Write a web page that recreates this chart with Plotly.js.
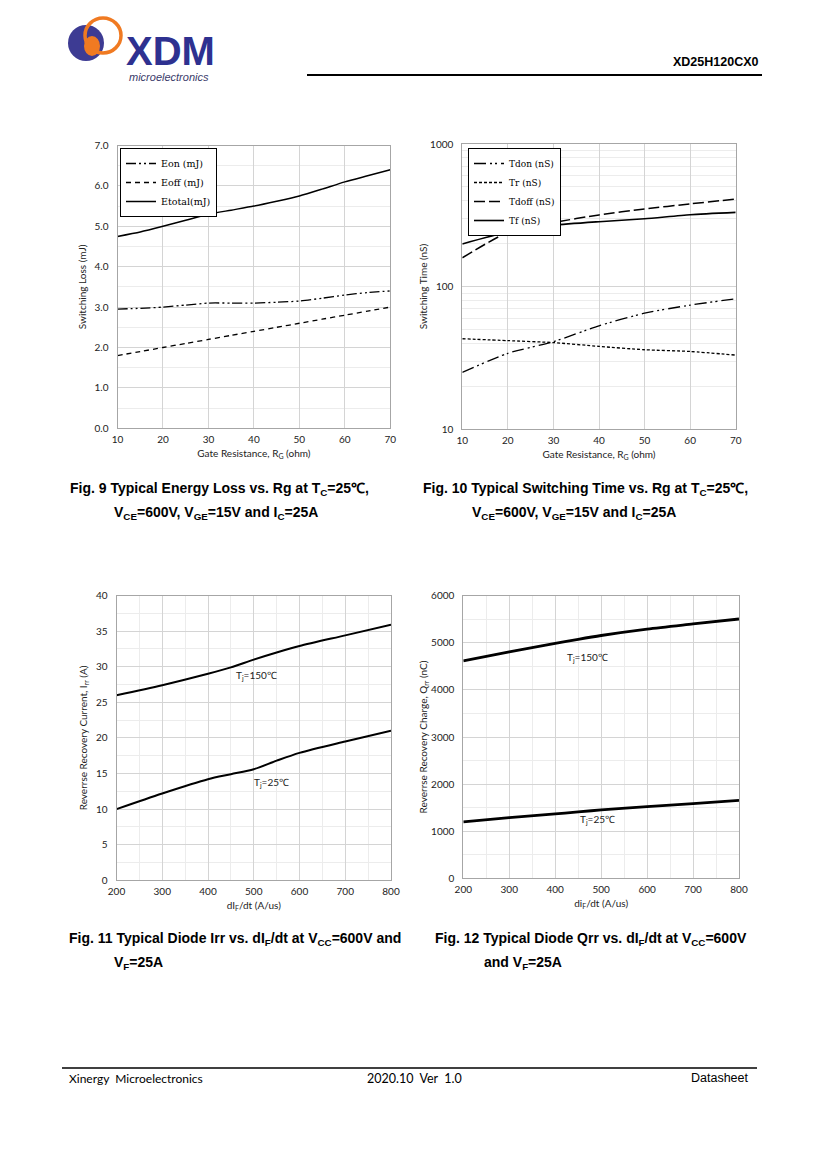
<!DOCTYPE html>
<html><head><meta charset="utf-8">
<script src="https://cdn.plot.ly/plotly-3.0.1.min.js"></script>
<style>html,body{margin:0;padding:0;background:#fff;}#page{width:827px;height:1170px;}</style>
</head><body><div id="page"></div>
<script>
// ---------- data ----------
const rg = [10, 15, 20, 25, 30, 35, 40, 45, 50, 55, 60, 65, 70];
const eon = [2.95, 2.97, 3.0, 3.05, 3.1, 3.1, 3.1, 3.12, 3.15, 3.22, 3.3, 3.36, 3.4];
const eoff = [1.8, 1.9, 2.0, 2.1, 2.2, 2.3, 2.4, 2.5, 2.6, 2.7, 2.8, 2.9, 3.0];
const etotal = [4.75, 4.86, 5.0, 5.15, 5.3, 5.4, 5.5, 5.62, 5.75, 5.92, 6.1, 6.25, 6.4];

const rg2 = [10, 20, 30, 40, 50, 60, 70];
const tdon = [25, 34, 41, 53, 65, 74, 82];
const tr = [43, 41.7, 40.4, 38, 36, 35, 33];
const tdoff = [159, 240, 281, 318, 350, 380, 411];
const tf = [199, 241, 269, 285, 299, 319, 331];

const didt = [200, 300, 400, 450, 500, 550, 600, 700, 800];
const irr150 = [26, 27.4, 29.0, 29.9, 31.0, 32.0, 32.9, 34.4, 35.9];
const irr25 = [10, 12.2, 14.2, 14.9, 15.6, 16.8, 17.9, 19.5, 21.0];

const didt2 = [200, 300, 400, 450, 500, 600, 700, 800];
const qrr150 = [4614, 4805, 4989, 5075, 5155, 5290, 5400, 5506];
const qrr25 = [1196, 1288, 1366, 1410, 1451, 1522, 1585, 1656];

const fig9Ticks = [0, 1, 2, 3, 4, 5, 6, 7];

// ---------- helpers ----------
const W = 827, H = 1170;
const px = x => x / W;
const py = y => 1 - y / H;

const tickFont = {family: 'Lato, Open Sans, sans-serif', size: 10, color: '#222'};
const titleFont = {family: 'Lato, Open Sans, sans-serif', size: 10, color: '#222'};
const capFont = {family: 'Liberation Sans, Arial, sans-serif', size: 14, color: '#000'};
const gridMajor = '#d4d4d4', gridMinor = '#ececec', axisLine = '#a6a6a6';

function xax(domain, range, dtick, minorDtick, title, anchor) {
  const a = {domain: domain, range: range, dtick: dtick, tick0: range[0], showgrid: true, gridcolor: gridMajor,
    gridwidth: 1, zeroline: false, showline: true, linecolor: axisLine, linewidth: 1, mirror: true,
    ticks: 'outside', ticklen: 2, tickcolor: 'rgba(0,0,0,0)', tickfont: tickFont, anchor: anchor, fixedrange: true,
    title: {text: title, font: titleFont, standoff: 5}};
  if (minorDtick) a.minor = {dtick: minorDtick, showgrid: true, gridcolor: gridMinor, ticks: ''};
  return a;
}
function yax(domain, range, dtick, minorDtick, title, anchor, standoff, extra) {
  const a = {domain: domain, range: range, dtick: dtick, tick0: 0, showgrid: true, gridcolor: gridMajor,
    gridwidth: 1, zeroline: false, showline: true, linecolor: axisLine, linewidth: 1, mirror: true,
    ticks: 'outside', ticklen: 6, tickcolor: 'rgba(0,0,0,0)', tickfont: tickFont, anchor: anchor, fixedrange: true,
    title: {text: title, font: titleFont, standoff: standoff}};
  if (minorDtick) a.minor = {dtick: minorDtick, showgrid: true, gridcolor: gridMinor, ticks: ''};
  return Object.assign(a, extra || {});
}

// ---------- traces ----------
const traces = [
  {x: rg, y: eon, name: 'Eon (mJ)', xaxis: 'x', yaxis: 'y', mode: 'lines', legend: 'legend',
   line: {color: '#000', width: 1.3, dash: '10px,3px,2px,3px,2px,3px', shape: 'spline', smoothing: 0.6}},
  {x: rg, y: eoff, name: 'Eoff (mJ)', xaxis: 'x', yaxis: 'y', mode: 'lines', legend: 'legend',
   line: {color: '#000', width: 1.3, dash: '5px,4px', shape: 'spline', smoothing: 0.6}},
  {x: rg, y: etotal, name: 'Etotal(mJ)', xaxis: 'x', yaxis: 'y', mode: 'lines', legend: 'legend',
   line: {color: '#000', width: 1.5, shape: 'spline', smoothing: 0.6}},

  {x: rg2, y: tdon, name: 'Tdon (nS)', xaxis: 'x2', yaxis: 'y2', mode: 'lines', legend: 'legend2',
   line: {color: '#000', width: 1.3, dash: '12px,4px,2px,3px,2px,4px', shape: 'spline', smoothing: 0.6}},
  {x: rg2, y: tr, name: 'Tr (nS)', xaxis: 'x2', yaxis: 'y2', mode: 'lines', legend: 'legend2',
   line: {color: '#000', width: 1.3, dash: '3px,2px', shape: 'spline', smoothing: 0.6}},
  {x: rg2, y: tdoff, name: 'Tdoff (nS)', xaxis: 'x2', yaxis: 'y2', mode: 'lines', legend: 'legend2',
   line: {color: '#000', width: 1.5, dash: '11px,4px', shape: 'spline', smoothing: 0.6}},
  {x: rg2, y: tf, name: 'Tf (nS)', xaxis: 'x2', yaxis: 'y2', mode: 'lines', legend: 'legend2',
   line: {color: '#000', width: 1.6, shape: 'spline', smoothing: 0.6}},

  {x: didt, y: irr150, name: 'Tj=150', xaxis: 'x3', yaxis: 'y3', mode: 'lines', showlegend: false,
   line: {color: '#000', width: 2, shape: 'spline', smoothing: 0.8}},
  {x: didt, y: irr25, name: 'Tj=25', xaxis: 'x3', yaxis: 'y3', mode: 'lines', showlegend: false,
   line: {color: '#000', width: 2, shape: 'spline', smoothing: 0.8}},

  {x: didt2, y: qrr150, name: 'Tj=150', xaxis: 'x4', yaxis: 'y4', mode: 'lines', showlegend: false,
   line: {color: '#000', width: 2.8, shape: 'spline', smoothing: 0.8}},
  {x: didt2, y: qrr25, name: 'Tj=25', xaxis: 'x4', yaxis: 'y4', mode: 'lines', showlegend: false,
   line: {color: '#000', width: 2.8, shape: 'spline', smoothing: 0.8}}
];

// ---------- annotations ----------
function ann(text, x, y, xa, ya, font, extra) {
  return Object.assign({text: text, x: x, y: y, xref: 'paper', yref: 'paper', xanchor: xa, yanchor: ya,
    showarrow: false, font: font}, extra || {});
}
const annotations = [
  ann('<b>XD25H120CX0</b>', px(761), py(62), 'right', 'middle', {family: 'Liberation Sans, Arial, sans-serif', size: 12.5, color: '#000'}),
  ann('<b>XDM</b>', px(124), py(51), 'left', 'middle', {family: 'Liberation Sans, Arial, sans-serif', size: 40, color: '#2e3190'}),
  ann('<i>microelectronics</i>', px(127), py(77), 'left', 'middle', {family: 'Liberation Sans, Arial, sans-serif', size: 11, color: '#3a3a6a'}),

  ann('<b>Fig. 9 Typical Energy Loss vs. Rg at T<sub>C</sub>=25℃,</b>', px(68), py(489), 'left', 'middle', capFont),
  ann('<b>V<sub>CE</sub>=600V, V<sub>GE</sub>=15V and I<sub>C</sub>=25A</b>', px(112), py(513), 'left', 'middle', capFont),
  ann('<b>Fig. 10 Typical Switching Time vs. Rg at T<sub>C</sub>=25℃,</b>', px(421), py(489), 'left', 'middle', capFont),
  ann('<b>V<sub>CE</sub>=600V, V<sub>GE</sub>=15V and I<sub>C</sub>=25A</b>', px(470), py(513), 'left', 'middle', capFont),
  ann('<b>Fig. 11 Typical Diode Irr vs. dI<sub>F</sub>/dt at V<sub>CC</sub>=600V and</b>', px(67), py(939), 'left', 'middle', capFont),
  ann('<b>V<sub>F</sub>=25A</b>', px(112), py(963), 'left', 'middle', capFont),
  ann('<b>Fig. 12 Typical Diode Qrr vs. dI<sub>F</sub>/dt at V<sub>CC</sub>=600V</b>', px(433), py(939), 'left', 'middle', capFont),
  ann('<b>and V<sub>F</sub>=25A</b>', px(482), py(963), 'left', 'middle', capFont),

  ann('Xinergy  Microelectronics', px(67), py(1078), 'left', 'middle', {family: 'Lato, Open Sans, sans-serif', size: 12, color: '#000'}),
  ann('2020.10  Ver  1.0', px(414), py(1078), 'center', 'middle', {family: 'Lato, Open Sans, sans-serif', size: 12.5, color: '#000'}),
  ann('Datasheet', px(751), py(1078), 'right', 'middle', {family: 'Liberation Sans, Arial, sans-serif', size: 12.5, color: '#000'}),

  {text: 'T<sub>j</sub>=150℃', x: 507, y: 28.8, xref: 'x3', yref: 'y3', showarrow: false, font: titleFont},
  {text: 'T<sub>j</sub>=25℃', x: 538, y: 13.7, xref: 'x3', yref: 'y3', showarrow: false, font: titleFont},
  {text: 'T<sub>j</sub>=150℃', x: 471, y: 4698, xref: 'x4', yref: 'y4', showarrow: false, font: titleFont},
  {text: 'T<sub>j</sub>=25℃', x: 491, y: 1238, xref: 'x4', yref: 'y4', showarrow: false, font: titleFont}
];

// ---------- shapes (page furniture) ----------
const shapes = [
  {type: 'line', xref: 'paper', yref: 'paper', x0: px(307), x1: px(762), y0: py(75), y1: py(75), line: {color: '#000', width: 2}},
  {type: 'line', xref: 'paper', yref: 'paper', x0: px(62), x1: px(757), y0: py(1068), y1: py(1068), line: {color: '#000', width: 1.5}},
  {type: 'circle', xref: 'paper', yref: 'paper', x0: px(68), x1: px(104), y0: py(61), y1: py(25), fillcolor: '#3d3b93', line: {width: 0}},
  {type: 'circle', xref: 'paper', yref: 'paper', x0: px(84), x1: px(100), y0: py(56), y1: py(36), fillcolor: '#f07a22', line: {width: 0}},
  {type: 'circle', xref: 'paper', yref: 'paper', x0: px(85), x1: px(121), y0: py(53), y1: py(18), fillcolor: 'rgba(0,0,0,0)', line: {color: '#f07a22', width: 3.5}}
];

const layout = {
  width: W, height: H, margin: {l: 0, r: 0, t: 0, b: 0}, paper_bgcolor: '#fff', plot_bgcolor: '#fff',
  showlegend: true,
  xaxis: xax([px(117.5), px(390.3)], [10, 70], 10, null, 'Gate Resistance, R<sub>G</sub> (ohm)', 'y'),
  yaxis: yax([py(428.3), py(145.5)], [0, 7], 1, 0.5, 'Switching Loss (mJ)', 'x', 6, {tickformat: '.1f', tickvals: fig9Ticks}),
  xaxis2: xax([px(462.3), px(735.7)], [10, 70], 10, null, 'Gate Resistance, R<sub>G</sub> (ohm)', 'y2'),
  yaxis2: yax([py(429), py(144)], [1, 3], 1, null, 'Switching Time (nS)', 'x2', 0,
    {type: 'log', minor: {dtick: 'D1', showgrid: true, gridcolor: gridMinor, ticks: ''}}),
  xaxis3: xax([px(116.5), px(391)], [200, 800], 100, 50, 'dI<sub>F</sub>/dt (A/us)', 'y3'),
  yaxis3: yax([py(880.3), py(595.5)], [0, 40], 5, 2.5, 'Reverrse Recovery Current, I<sub>rr</sub> (A)', 'x3', 6),
  xaxis4: xax([px(463.3), px(739)], [200, 800], 100, 50, 'di<sub>F</sub>/dt (A/us)', 'y4'),
  yaxis4: yax([py(878.3), py(595.7)], [0, 6000], 1000, 500, 'Reverrse Recovery Charge, Q<sub>rr</sub> (nC)', 'x4', 1),
  legend: {x: px(120), y: py(148), xanchor: 'left', yanchor: 'top', bgcolor: '#fff', bordercolor: '#000', borderwidth: 1,
    font: {family: 'DejaVu Serif, Liberation Serif, serif', size: 9.5, color: '#000'}, itemwidth: 30, tracegroupgap: 0},
  legend2: {x: px(468), y: py(148), xanchor: 'left', yanchor: 'top', bgcolor: '#fff', bordercolor: '#000', borderwidth: 1,
    font: {family: 'DejaVu Serif, Liberation Serif, serif', size: 9, color: '#000'}, itemwidth: 30, tracegroupgap: 0},
  annotations: annotations,
  shapes: shapes
};

Plotly.newPlot('page', traces, layout, {staticPlot: true, displayModeBar: false});
</script>
</body></html>
